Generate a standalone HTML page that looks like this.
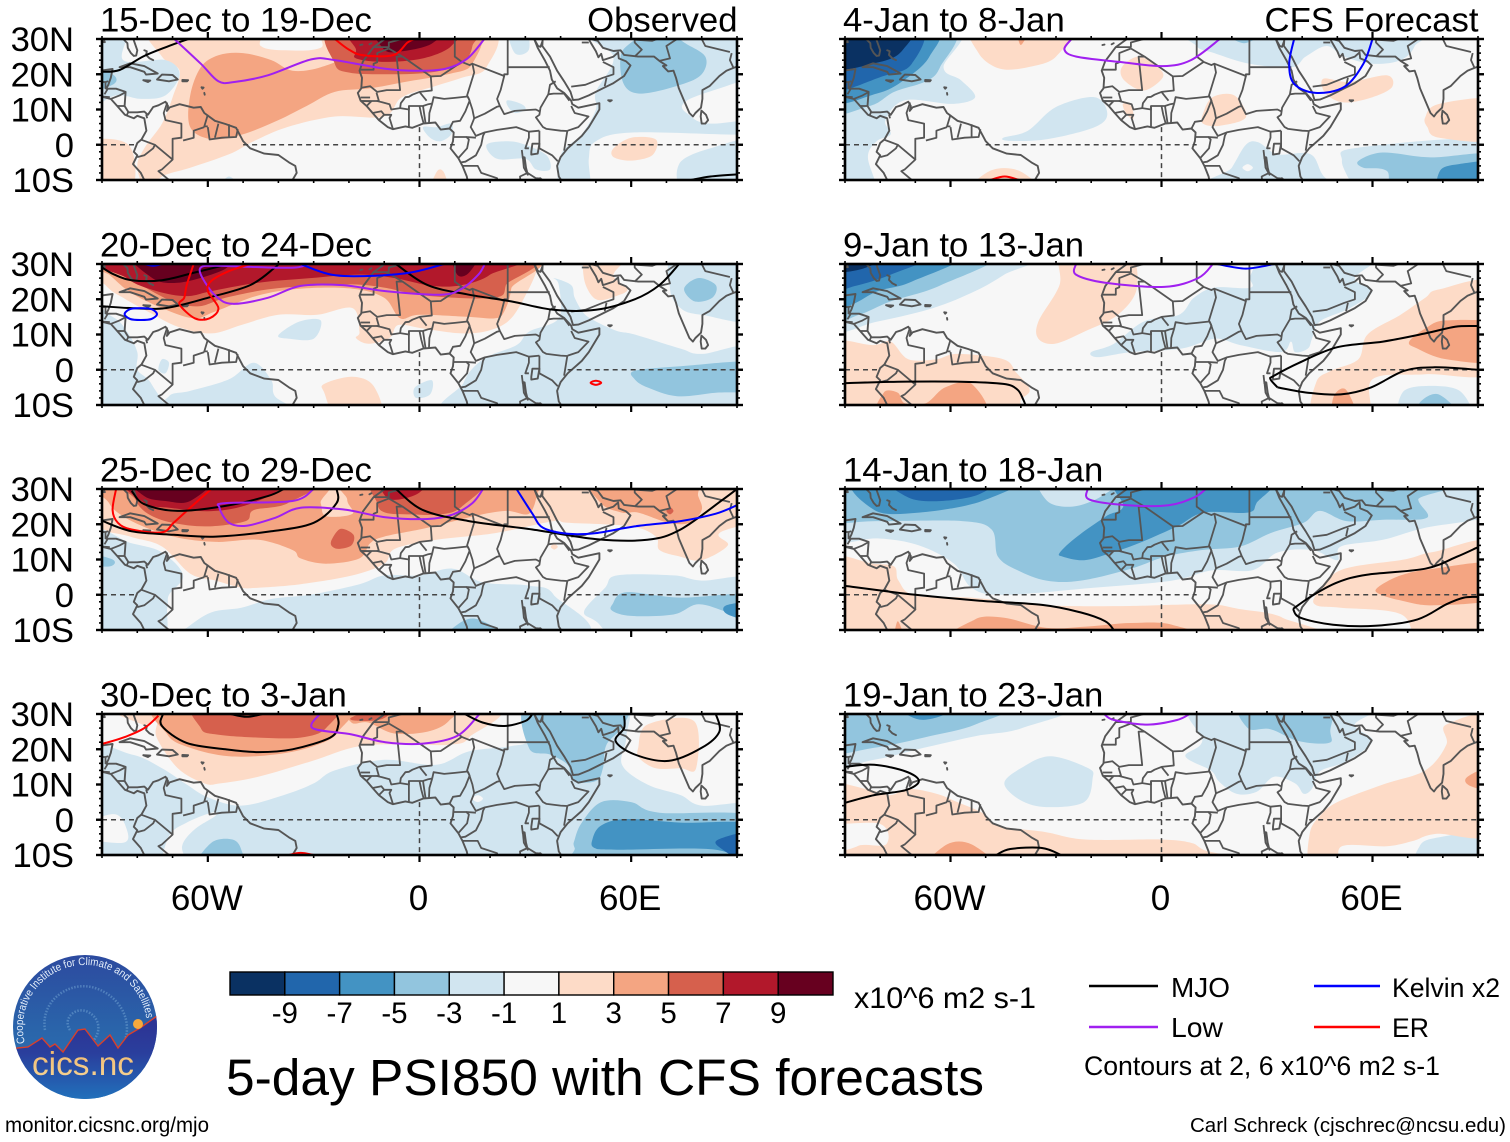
<!DOCTYPE html>
<html lang="en">
<head>
<meta charset="utf-8">
<title>5-day PSI850 with CFS forecasts</title>
<style>
html,body{margin:0;padding:0;background:#fff;}
svg{display:block;}
text{font-family:"Liberation Sans",Arial,sans-serif;fill:#000;}
</style>
</head>
<body>
<svg id="chart" xmlns="http://www.w3.org/2000/svg" width="1510" height="1142" viewBox="0 0 1510 1142">
  <rect width="1510" height="1142" fill="#fff"/>
  <g id="panels"></g>

  <g id="colorbar"></g>
  <text x="854" y="1008" font-size="30" textLength="182" lengthAdjust="spacingAndGlyphs">x10^6 m2 s-1</text>

  <text x="226" y="1095" font-size="51.4" textLength="758" lengthAdjust="spacingAndGlyphs">5-day PSI850 with CFS forecasts</text>

  <g>
    <line x1="1089" y1="986" x2="1158" y2="986" stroke="#000" stroke-width="2.4"/>
    <text x="1171" y="997" font-size="27.5" textLength="59" lengthAdjust="spacingAndGlyphs">MJO</text>
    <line x1="1089" y1="1027" x2="1158" y2="1027" stroke="#a020f0" stroke-width="2.4"/>
    <text x="1171" y="1037" font-size="27.5" textLength="52" lengthAdjust="spacingAndGlyphs">Low</text>
    <line x1="1314" y1="986" x2="1380" y2="986" stroke="#0000ff" stroke-width="2.4"/>
    <text x="1392" y="997" font-size="27" textLength="108" lengthAdjust="spacingAndGlyphs">Kelvin x2</text>
    <line x1="1314" y1="1027" x2="1380" y2="1027" stroke="#ff0000" stroke-width="2.4"/>
    <text x="1392" y="1037" font-size="27" textLength="37" lengthAdjust="spacingAndGlyphs">ER</text>
    <text x="1084" y="1075" font-size="26.4" textLength="356" lengthAdjust="spacingAndGlyphs">Contours at 2, 6 x10^6 m2 s-1</text>
  </g>

  <text x="5" y="1132" font-size="20.8" textLength="204" lengthAdjust="spacingAndGlyphs">monitor.cicsnc.org/mjo</text>
  <text x="1190" y="1132" font-size="20.5" textLength="316" lengthAdjust="spacingAndGlyphs">Carl Schreck (cjschrec@ncsu.edu)</text>

  <g>
    <defs>
      <linearGradient id="logoSky" x1="0" y1="0" x2="0" y2="1">
        <stop offset="0" stop-color="#2c4a9f"/>
        <stop offset="0.55" stop-color="#2a66ab"/>
        <stop offset="1" stop-color="#2b74b4"/>
      </linearGradient>
      <linearGradient id="logoLand" x1="0" y1="0" x2="0" y2="1">
        <stop offset="0" stop-color="#2e3192"/>
        <stop offset="0.4" stop-color="#2a3f9d"/>
        <stop offset="1" stop-color="#1f7cc2"/>
      </linearGradient>
      <linearGradient id="logoText" x1="0" y1="0" x2="0" y2="1">
        <stop offset="0" stop-color="#f0b568"/>
        <stop offset="1" stop-color="#f6d79a"/>
      </linearGradient>
      <clipPath id="logoClip"><circle cx="85" cy="1027" r="72"/></clipPath>
      <path id="logoArc" d="M 25 1043 A 62 62 0 1 1 146.5 1020"/>
    </defs>
    <circle cx="85" cy="1027" r="72" fill="url(#logoSky)"/>
    <g clip-path="url(#logoClip)">
      <path d="M 70 1030 C 62 1018 76 1006 88 1012 C 104 1020 100 1040 86 1046 M 45 1030 C 40 1000 70 980 95 988 C 120 996 132 1020 125 1040" fill="none" stroke="#7fb2dc" stroke-opacity="0.45" stroke-width="2.5" stroke-dasharray="1.5 1.5"/>
      <path d="M 13 1050 L 17 1048 L 28 1047 L 42 1038 L 50 1047 L 55 1044 L 63 1052 L 78 1030 L 85 1029 L 98 1046 L 110 1035 L 118 1048 L 128 1035 L 140 1028 L 157 1016 L 160 1110 L 10 1110 Z" fill="url(#logoLand)"/>
      <path d="M 13 1050 L 17 1048 L 28 1047 L 42 1038 L 50 1047 L 55 1044 L 63 1052 L 78 1030 L 85 1029 L 98 1046 L 110 1035 L 118 1048 L 128 1035 L 140 1028 L 157 1016" fill="none" stroke="#d8402c" stroke-width="1.4"/>
    </g>
    <circle cx="138" cy="1024" r="5" fill="#f6a93c"/>
    <text font-size="11" style="fill:#e4eefa"><textPath href="#logoArc" textLength="202" lengthAdjust="spacingAndGlyphs">Cooperative Institute for Climate and Satellites</textPath></text>
    <text x="32" y="1075" font-size="33.5" textLength="102" lengthAdjust="spacingAndGlyphs" style="fill:url(#logoText)">cics.nc</text>
  </g>
</svg>

<script>
/* ---- axis labels ---- */
const lonTickValues = [-60, 0, 60];
const lonTickLabels = ['60W', '0', '60E'];
const latTickValues = [30, 20, 10, 0, -10];
const latTickLabels = ['30N', '20N', '10N', '0', '10S'];

/* ---- colour scale ---- */
const colorbarLabels = ['-9', '-7', '-5', '-3', '-1', '1', '3', '5', '7', '9'];
const colorbarBins = [-9, -7, -5, -3, -1, 0, 1, 3, 5, 7, 9];

/* ---- panel titles ---- */
const panelTitlesLeft = ['15-Dec to 19-Dec', '20-Dec to 24-Dec', '25-Dec to 29-Dec', '30-Dec to 3-Jan'];
const panelTitlesRight = ['4-Jan to 8-Jan', '9-Jan to 13-Jan', '14-Jan to 18-Jan', '19-Jan to 23-Jan'];

/* ---- shaded PSI850 regions: [level, lon,lat pairs] ---- */
const fillsDec15 = [
 [1,[-76,30,-47,30,-45,28,-38,26.8,-28,27.5,-24,30,19,30,19,22,12,19,4,16.5,-5,13.5,-10,8,-24,8,-37.5,5,-47,1,-54,-2.7,-65,-6.5,-73,-9,-77,-10,-80,-6.5,-78,-1,-73,6,-70,13.5,-68,21,-73,25]],
 [1,[-90,0,-82.5,0,-82,-10,-90,-10]],
 [1,[3,-10,5,-7.5,7,-8,8,-10]],
 [1,[55,-1,60,2,67,1.5,66,-3,60,-4.5,55,-3.5]],
 [3,[-65,14,-62,22,-57,25.4,-50,26,-42,24,-36,21,-28,22,-20,26,-20,30,15,30,15,23,8,20,-3,18,-14,16,-24,15,-32,11,-40,7,-50,3,-59,1.6,-65,5]],
 [5,[-24,30,-24,23,-20,20.5,-10,20,3,20.5,12,23,15,28,14,30]],
 [7,[-19,30,-18,27,-18,24.5,-10,23.5,1,24.5,9,28,9.5,30]],
 [9,[-12,30,-10,27,-5,26.5,3.5,28.7,6,30]],
 [-1,[-90,30,-83,30,-84,24,-72,24,-68,20,-72,14,-79,13,-86,14,-90,11]],
 [-3,[-90,23,-87,20,-87,17,-90,15]],
 [-1,[47,30,55,25,50,15,50,10,46,3,40,-3,40,-10,48,-10,48,-4,50,1,61,3.5,90,3,90,7,82.5,6,77,8,75.7,12.5,90,21,90,30]],
 [-1,[73.6,-5.5,82.5,-1,90,1,90,-10,76,-10]],
 [-3,[57,25,60,29,68,30,75,29,81,25,80,20,74,17,63,14.5,58,17]],
 [-1,[25,12.6,29,11.5,30,10,27,9,25,11]],
 [-1,[1,5,5,5,9,6,9,3,6,1,3,2]],
 [-1,[19,0,25,1,30,0,36,-3,37,-7,33,-7,30,-4,22,-4]],
 [-1,[25,30,30,30,31,27,27,26]],
 [-1,[-57,-10,-54,-9,-50,-10]]
];
const linesDec15 = [
 ['mjo',[-90,20.7,-85,21.2,-78.4,25,-71.6,27.8,-65.5,30]],
 ['low',[-69.5,30,-62,23,-57,18,-52.5,17.8,-43,19.7,-30.7,24.2,-24,24,-10,21.6,-0.7,21,7.5,21.6,13.6,24.5,18.4,30]],
 ['er',[-24,30,-20,27,-16,25.4,-7.5,25.4,-3.4,29,-1.4,30]],
 ['mjo',[77,-10,82.5,-9,90,-8.4]]
];

const fillsDec20 = [
 [1,[-90,30,-89,24,-84,20.4,-77,16.5,-68.5,12.2,-59,10.3,-50.5,12.7,-40,15.6,-29,15.6,-19,17.5,-17,10.8,-18,9,-14.5,7.4,-8.5,9,-6,12.7,1,11.7,12,10.3,20,11.2,26,14.6,31,23,33.5,29,34,30]],
 [1,[48,30,46.6,26,50,20,56,21,59,23,55,27,60,30]],
 [1,[-27,-4,-19,-2,-13,-4.6,-11,-10,-23,-10,-27,-6.5]],
 [3,[-90,30,-88,27,-82,22,-73,17.5,-64,14.6,-58,16.5,-46,21,-34,23,-19,23,-10,20.4,-5.5,14.6,0,15.6,14,15,21.5,14.6,24,16.5,26,23,26,30]],
 [5,[-90,30,-86.5,28,-79,24,-70,19.4,-62.5,18,-55,20.4,-43,22.8,-31,23.8,-19,24.2,-10,23.3,2,21,21,20.4,24.5,24,25,30]],
 [7,[-88,30,-83,26,-74.5,22.3,-66,20.9,-59,22.3,-45.7,24.7,-31,26,-17,27,-7,26,3.5,23.8,12,24,20,27,24.5,30]],
 [9,[-81,30,-75.7,26,-68.5,24.7,-59,27,-54,29.5,-53,30]],
 [9,[9.5,30,10.7,27,14,27.5,17,30]],
 [-1,[-90,18,-87,15,-83,11,-80,5,-80,0,-76,-4,-73,-10,-90,-10]],
 [-1,[-73,3,-71,2,-72,-1,-74,0]],
 [-1,[-71,-7.5,-65,-6,-54,-2.7,-47,2,-42,-3,-41,-7.5,-35,-10,-72,-10]],
 [-1,[-40,9.8,-34,13.7,-28,14,-30,8.8,-37,8.8]],
 [-1,[-1.3,-5,3.5,-3,3,-7,-1,-8]],
 [-1,[12,-10,12.5,-3.7,18,3,27.5,7,31,10.8,39.5,14.6,39.5,24,38,26,43,24,44,20.4,46.6,16,50,13.7,56,11,61,10,74,6,80,4.5,90,6,90,-10]],
 [-1,[73,30,71,23,74,17.5,80,15.6,90,14.6,90,30]],
 [-3,[75,23,79,26,84,24,83,20.4,78,19.4]],
 [-3,[61,-0.3,74,1,90,2,90,-5.5,84,-6.5,73,-7.5,64.6,-5,61,-2.7]]
];
const linesDec20 = [
 ['mjo',[-90,29,-86.5,27,-81.6,25.4,-73,25.4,-63.7,27.6,-54,30]],
 ['mjo',[-90,18,-81.6,17.5,-72,17.5,-60,20.4,-48,24,-41,29,-40,30]],
 ['mjo',[-6.7,30,2.3,24,14,21.3,26,19.4,38,17,50,17,61,20,68,24,73.6,30]],
 ['low',[-31,30,-35,29,-43,29,-57.7,29.5,-62,29,-61.5,26,-57.7,20.9,-53,18.7,-43,20.4,-33.7,23.8,-21.7,24,-9.7,22.3,6,21.3,12,23,16.7,27,18.5,30]],
 ['kelvin',[-83.6,15.8,-82,17.2,-79,17.5,-76,17.2,-74.4,15.8,-76,14.4,-79,14.1,-82,14.4],true],
 ['kelvin',[-78,30,-75.5,29.5,-73,30]],
 ['kelvin',[-33.7,30,-25,27,-14.5,26.6,-2.5,27.6,7,30]],
 ['er',[-64,30,-66,24,-66.7,20.4,-68,18.5,-63.7,14.6,-59.5,14.6,-57,17.5,-60,22.3,-59,25.2,-54,28,-48,30]],
 ['er',[48.5,-3.7,50,-3.1,51.5,-3.7,50,-4.3],true]
];

const fillsDec25 = [
 [1,[-90,30,-90,20.9,-82,16.5,-73,13.7,-65,6,-57.7,4,-50.5,2,-45.7,2,-33.7,3,-19,5.5,-10,8.8,-7,13,4.7,15.6,21.5,17.5,38,20.9,42,20.4,60,19.4,67,16.5,68,12.7,74,10.8,80,9.8,87.4,14,85,17.5,90,22.3,90,30]],
 [1,[37.2,13.6,38.2,14.4,39.2,13.6,38.2,12.8]],
 [3,[-88.5,30,-88,26,-81.6,20.9,-69.7,16.5,-57.7,15,-45.7,15.6,-36,12.7,-33.7,10.3,-26.5,8.8,-17,10.3,-14,14.6,-10,16.5,2.3,19,15.5,22.3,24.5,23.8,31,23,33.5,29,34,30,-18.7,30,-20.5,27,-19,23,-26.5,22.3,-28,26,-30,30]],
 [3,[49,30,51.4,26,57.4,23.3,62,23.3,70.6,20.4,76.6,20.4,80,24,79,28,76.6,30]],
 [5,[71,24.8,72,23.8,71,22.8,70,23.8]],
 [5,[-81.6,30,-80.5,27,-77,23,-70,20.4,-60,19.4,-49.3,20.9,-47,24,-37.3,26,-30,30]],
 [5,[-12,30,-12,26,-9.7,23.3,-2.5,22.8,6,22.8,12,25,18,30]],
 [5,[-24.7,16,-22.3,18.7,-18.7,17,-19.3,14,-23,13,-25,14]],
 [7,[-81.6,30,-78,26,-71,24.7,-60,23.7,-50.5,25,-41,29,-38.5,30]],
 [7,[-11,30,-9.7,28,-6,27,0,29,2.3,30]],
 [9,[-81.6,30,-78,28,-72,26.6,-65,26.6,-59,30]],
 [-1,[-90,18,-81.6,14.6,-73,12,-67,5.5,-71,0,-71.5,-3.7,-74,-10,-90,-10]],
 [-1,[-71,-10,-66,-9.4,-59,-5,-50.5,-3.7,-42,-1.2,-31,0,-17,3,-10,5.5,0,5.5,9.5,7.4,18,3.5,31,2.6,38,0,41,-10]],
 [-1,[46.7,-4.6,52.6,2,56,5.5,72,5.5,80,4,90,4,90,-10,60,-10,50,-7.5]],
 [-3,[54.7,-2.7,58.6,0.7,74,-0.8,90,0,90,-8,87.4,-5,79,-2.7,72,-5.6,60,-6,54.7,-4.6]],
 [-5,[87,-3,90,-2.3,90,-7.5,87.4,-5.6]],
 [-3,[7.7,-10,10.7,-8.5,16.7,-7,26,-10]],
 [-3,[-90,12,-87,10,-88,8,-90,9]]
];
const linesDec25 = [
 ['er',[-86,30,-87,24,-85.5,20.4,-81.6,18.5,-73,17.7,-69.7,20.4,-65,24.7,-59,30]],
 ['mjo',[-81.6,29.5,-78,25.7,-68.5,23.8,-55,25.2,-43,28,-38.5,30]],
 ['mjo',[-90,21,-81.6,18,-69.7,17,-57.7,16.5,-42,18,-30,20.4,-23.5,26,-23.5,30]],
 ['low',[-30,30,-36,26.6,-55,26,-56.7,24.7,-54,20.4,-49,19.6,-41,21.8,-33.7,24.7,-21.7,24.2,-9.7,22,2.3,21.5,9.5,22.8,15,26,18,30]],
 ['mjo',[-6.7,30,1,24,14,20.9,32,18.5,50,15.8,64.6,15.6,74,18.5,86,27,90,30]],
 ['kelvin',[27.5,30,32,23,35,19,42,17.3,50,17.5,61,19.4,74,20.9,84,23,90,25.4]]
];

const fillsDec30 = [
 [-1,[-90,19.4,-81.6,18.5,-73,14.6,-66,10,-60,6.4,-50.5,4,-38.5,7,-30,10.3,-24,14,-10,17,4.7,15.6,14,19.4,26,20.9,31,23,32,30,57.4,30,58.6,23.3,57.4,15.6,64.6,10,74,7,80,4,90,3.5,90,-10,-90,-10]],
 [0,[-72.7,-10,-71,-4.6,-66,-0.8,-59,2,-57.7,1.2,-63.7,-2.7,-67.3,-7.5,-66,-10]],
 [0,[-90,-1.7,-86.5,1.6,-83,-2.7,-84,-6.5,-90,-5]],
 [0,[15,6,16.5,7,18,6,16.5,5]],
 [1,[-81,30,-78.6,27,-74.5,28,-74.5,23.3,-68.5,14.6,-61,10.3,-56.5,10.3,-45.7,12.2,-31,16.5,-17,20.9,-2.5,21.3,8.3,21.3,14,23.3,17,30]],
 [1,[62,20.4,64.6,27,77.8,28,78.4,14.6,74,14.6,67,14.6,62.3,17.5]],
 [3,[-72.7,30,-71.5,24.2,-65,20.4,-54,18,-41,18.5,-30,20.9,-23,25,-22.5,30]],
 [3,[-20,30,-19.3,27.6,-14.5,27.6,-7.3,24.5,2.3,25,8.3,28,10,30]],
 [5,[-62,30,-62,26,-57.7,24.2,-45.7,23.3,-33.7,23.3,-26.5,26,-25,30]],
 [5,[-19.3,29,-15.7,28,-9.7,29,-6.7,30]],
 [-3,[31,30,31,20.4,37,18.5,42,15.6,43.6,11,50,11,52,14.6,53,21.3,58,27,57.4,30]],
 [-3,[44,-5.6,46,-0.8,51.5,5,60,5,68,2,90,0.7,90,-10,47.2,-10,44,-8]],
 [-3,[-63,-10,-59,-6.5,-53,-5.6,-50.5,-8.5,-50.5,-10]],
 [-5,[49,-5.6,51.4,-1.7,58.6,0.2,74,-0.8,90,-1.7,90,-10,84,-8.5,56,-8.5,49.6,-8]],
 [-7,[84.7,-5.6,90,-3.7,90,-10,86,-8.5]]
];
const linesDec30 = [
 ['er',[-90,21.5,-84,23.3,-78,26,-74,29.5]],
 ['mjo',[-72.7,30,-73,26.6,-66,21.8,-55,20,-45.7,19.2,-36,20,-25.3,23.3,-23,27,-23.5,30]],
 ['mjo',[-53.5,30,-49,29.2,-44.5,30]],
 ['low',[-28.3,30,-30.3,26,-19.3,24.2,-9.7,22,1,21.6,10.7,23.8,17,30]],
 ['mjo',[12.8,30,17.9,27.6,24,26.6,30,28,32,30]],
 ['mjo',[58,29.5,58,26,55.6,22.3,61,18.5,70.6,16.7,80,20.4,85,25,84,30]],
 ['er',[-37,-10,-33.7,-9.4,-30,-10]]
];

const fillsJan4 = [
 [-1,[-58,30,-62,22,-57,18.3,-53,13.5,-59.6,11.6,-73,12.6,-78.5,7,-77,3,-81,1,-83.5,-3.6,-81,-10,-88,-10,-90,-10,-90,30]],
 [-3,[-60,30,-63,22,-67,18,-76,15,-83,11,-90,10,-90,30]],
 [-5,[-65,30,-66,25,-73,18.5,-81,14.5,-90,12.5,-90,30]],
 [-7,[-69,30,-71,23,-79,19.5,-90,15.5,-90,30]],
 [-9,[-72,30,-73.5,27,-80,23.5,-90,21.5,-90,30]],
 [-1,[10,30,10,28,15,26,25,23,37,22,41,25,47,28,52,25,60,23,68,24,72,28,72,30]],
 [-3,[16.6,30,23.5,28.8,30,30]],
 [-1,[-45,2,-38,4,-30,10.7,-19,13.5,-15.4,8.8,-19,5,-32.4,1.6,-43,1.1]],
 [-1,[15,-10,20,-6.5,24,0,27.5,0.7,33,-2.7,42.4,-2.7,46.5,-9.3,54.7,-10,51.3,-4.6,56,-0.8,90,1,90,-10]],
 [0,[23,-6.5,24.5,-5.5,26,-6.5,24.5,-7.5]],
 [-3,[56,-4.6,62.9,-2.2,76.5,-3.6,90,-2.9,90,-10,68,-10,64,-7.4,57.4,-6.5]],
 [-5,[79.2,-7.4,84.6,-5.5,90,-5.2,90,-10,80,-10]],
 [1,[-52.8,30,-52,26,-46,21.6,-38,22,-30,25,-27,30]],
 [3,[-41,30,-40,28.3,-37.5,30]],
 [1,[-11.3,22,-6.5,25,-1,22,0.3,19,-5,15.4,-10.6,18.3]],
 [1,[-11,11.6,-8.6,11,-8,7.3,-10,8.8]],
 [1,[11.8,8.8,14.5,13.5,20.7,14,24,7.8,16.6,5.4,11.8,6]],
 [1,[46,18.7,53.4,17.8,64,19.7,65.6,16.4,60,13.5,52,12,46.7,14.5]],
 [1,[75,7.8,79,11.6,90,12.6,90,1.6,79,2,75.6,5]],
 [1,[-54,-10,-48.7,-7.4,-40.5,-7.4,-35,-10]]
];
const linesJan4 = [
 ['er',[-48.7,-10,-44.6,-9,-40.5,-10]],
 ['low',[-25.6,30,-27.6,27,-24.2,25,-12,23.5,0.3,22.3,8.4,24,16.6,30]],
 ['kelvin',[37.7,30,36.3,23,37.7,17.3,43.8,14.7,52,16.4,57.4,23,60,30]]
];

const fillsJan9 = [
 [-1,[-35,30,-44.7,27,-53,22.3,-65,17.5,-80.7,13.7,-90,11.3,-90,30]],
 [-3,[-47,30,-62.7,24,-77,19.4,-86,15.6,-90,13.7,-90,30]],
 [-5,[-55.7,30,-71,25,-80.7,22.3,-88,18.5,-90,16.5,-90,30]],
 [-7,[-64,30,-77,27,-87,23.8,-90,22.3,-90,30]],
 [-9,[-77,30,-85.5,28.5,-90,28,-90,30]],
 [-1,[5,15.6,9.2,20.4,15,23.3,25.4,23.3,25.4,27,32,30,62,30,55,26,60,22.3,53.6,17.5,45,13.7,42.8,8.8,41.6,6,38,5,36.8,8,34,5,22.4,7,15.2,8.8,5.6,6,-8.7,5,-18,3.6,-20,5,-13.5,7.4,-5,13.7]],
 [1,[-28,30,-29,24,-35,13.7,-35,8.8,-30.3,7.4,-22,10.8,-12.4,15.6,-7,23.3,-10,30]],
 [1,[-90,7,-82,7,-77,8,-72,3,-64,3,-58,4.5,-45,3,-41.3,-0.8,-37.5,-5.6,-40,-8.5,-44.7,-10,-90,-10]],
 [3,[-79,-6.5,-75,-6.5,-73,-9.5,-67,-9.5,-61.5,-5,-54,-4,-51,-10,-79,-10]],
 [1,[56,3,58.6,10,68,15.6,75,20.4,79,22.8,90,24.2,90,0,75,-1.3,60,-2.7,58.5,-10,43.4,-10,44,-3.6,48.2,-0.3]],
 [3,[70.4,7.9,75,11.7,81,14,90,12.7,90,2.6,81,3,72.8,6]],
 [3,[49,-7.5,52.4,-5.6,55.4,-10,49,-10]],
 [-1,[68.5,-6.5,75,-4.6,84.8,-6,87,-10,69,-10]],
 [-3,[73.4,-9.4,78.8,-7,84.8,-10,74,-10]]
];
const linesJan9 = [
 ['mjo',[-90,-3.8,-75,-3.4,-57,-3.4,-45,-4,-41,-5.6,-39.3,-8.5,-38.7,-10]],
 ['mjo',[33,-5,31,-2.7,32,-1.7,39.2,2,50,6.4,63,8,75,10.3,83.5,12.2,90,12.4]],
 ['mjo',[33,-5,41.6,-6.5,51,-7,59.6,-5,69,-0.3,77.6,0.7,90,0]],
 ['low',[-24.3,30,-24.3,27,-16,24.7,0.8,23.5,10.4,26,14.6,30]],
 ['kelvin',[15.8,30,24,28.7,32,30]]
];

const fillsJan14 = [
 [-1,[-90,15.6,-80.7,16,-69,14,-59,8.8,-54,2,-45,0,-19.3,2,3,4,14.3,6.9,26,7,33,12,42.8,12.7,50,9.8,51,13.7,63,15.6,75,19,90,23.3,90,30,-90,30]],
 [-3,[-90,21.3,-80.7,20.9,-56.7,20.9,-48.3,18.5,-46.5,10.8,-41,7,-32.7,4,-23,4,-8.7,7.4,1,10.8,11.6,12.7,22.4,13.7,31,17.5,40.4,20.4,45,23.8,52.6,20.9,63,21.3,75.4,21.8,73,27,73.6,30,-90,30]],
 [-1,[-33.7,30,-32.5,26.6,-25.3,25,-17,28,-12,30]],
 [-5,[-86,30,-81.6,24,-69,23.3,-51,26.6,-41.3,30]],
 [-5,[-28.9,12,-24,16.5,-15.7,22.3,-10.9,25,-11,30,29.8,30,27,26,24.5,23.3,12,23.3,4.4,19.4,-6.5,14.6,-14.8,11.7,-22,9.8,-28,10.8]],
 [-7,[-77,30,-72,27.6,-62.6,26.6,-51.6,28.6,-48,30]],
 [1,[-90,9.8,-82,8.8,-76,8,-74.8,4,-70,-0.3,-54,-0.8,-37,-2.7,-27,-3.2,-9,-3.2,12.7,-2.7,21.9,-4,34.4,-6.5,38,-10,-90,-10]],
 [3,[-56,-10,-53,-7,-44.7,-6.5,-32.7,-9.4,-21,-9,-8.7,-8,3,-8.5,10.3,-10]],
 [3,[-76,-10,-75,-7.5,-73,-10]],
 [1,[44,0,51,7,69,10,77.6,12.2,90,14,90,-10,74.6,-10,68,-5.5,51,-3.7,44,-3]],
 [3,[61.4,2,68,5.5,77.4,7.4,90,8.8,90,-0.7,78,-3,68.4,-1.7,62,0.2]]
];
const linesJan14 = [
 ['mjo',[-90,2.5,-70,0,-51.7,-1.7,-33.7,-2.9,-23,-5,-16,-7.5,-13.6,-10]],
 ['mjo',[37.4,-4,42.8,-0.3,50,3.5,58.4,5.7,75,7.4,84,10.8,90,13.5]],
 ['mjo',[37.4,-4,39.5,-6.5,48.8,-8.5,60.8,-8.8,72.8,-7,81,-2.7,86,-0.8,90,-0.6]],
 ['low',[-21,30,-20.5,27,-9.7,25.4,2,25.4,9.2,27.6,12.6,30]]
];

const fillsJan19 = [
 [-1,[-25.5,30,-39.7,26,-53,23.7,-67.6,20.4,-81.7,17,-90,15.6,-90,30]],
 [-3,[-43,30,-53,27,-66,23.7,-81.7,20.4,-90,19.4,-90,30]],
 [-5,[-75.7,30,-69.7,28.6,-62.5,29.5,-57.3,30]],
 [-1,[-44.7,10.3,-40,14.6,-31.6,18,-20.8,14.6,-19.6,11.7,-22,5,-32.7,3.6,-40,5.5]],
 [-1,[6.8,18,11.6,22.3,10.4,30,60.8,30,55,27,60,22.3,52.4,16.5,45,13.7,42.8,8.8,40.4,7.4,38,10.3,32,12.2,27,7.9,21.3,7.4,16.4,10.8,14,14]],
 [-3,[23,30,24.5,26,31,25.7,39,22.3,47.6,21.8,48,25,46.6,30]],
 [-1,[73.4,-7.5,78.8,-5,90,-3.6,90,-10,74,-10]],
 [1,[-90,10.3,-82.7,8.4,-77,7,-72,8.8,-64,7.4,-58,5,-51,2,-46,-1.7,-33,-3.5,-21.7,-5.6,-0.4,-5.6,8.3,-6.5,11.9,-8.5,21.4,-10,-89,-10,-86.5,-7.5,-78.3,-7,-80,-1.2,-90,-0.3]],
 [3,[-66,-10,-61,-7,-54,-7,-47.7,-10]],
 [1,[42.2,-10,42.2,-3.7,45,1,50,5,63,10,75,14,81,21.3,81,27,90,28,90,-2.7,78,-4,71.6,-6,64,-7.5,51.3,-7.5,50,-10]],
 [3,[87,12.2,90,15.6,90,8.4,88,9.5]]
];
const linesJan19 = [
 ['mjo',[-90,15,-81.7,15.6,-72.7,13.7,-69,11,-72.7,8.4,-81.7,7,-90,4.8]],
 ['mjo',[-47,-10,-43,-8.3,-34,-8,-28.6,-10]],
 ['low',[-16.3,30,-13.5,28.3,-4,27,4.4,28.3,8,30]]
];

/* ---- map geography (lon,lat) ---- */
const coastlines = [
 [-90,29.2,-89.2,29.1,-89.5,30,-86,30.4,-84,30,-82.8,28.8,-82.7,27.5,-81.8,26,-81,25.2,-80.3,25.3,-80,26.8,-80.6,28.5,-81.3,30.5],
 [-91,18.6,-90.5,21,-87,21.5,-87.5,19,-88.2,17,-88.8,15.9,-86,15.9,-83.3,15,-83.6,11,-82.5,9.2,-80,9.2,-78,9.4,-77,8.5,-75.5,10.7,-74,11.2,-72,12.2,-71.3,11,-71.6,9.6,-70.8,10.6,-68,11.5,-64,10.5,-62,10.7,-61,9,-58,6.8,-55,5.9,-52,4.8,-50,1,-48,-1,-44,-2.5,-40,-2.9,-37,-5,-35.2,-6,-34.8,-8,-36,-10],
 [-92,14.5,-90,13.6,-87.5,13,-85.7,11,-83.5,8.5,-81,7.5,-80,8.2,-78,7.5,-77.4,4,-78.8,1.5,-80,0.5,-81,-2,-80,-3,-81.2,-5.5,-79,-8,-78,-10],
 [-9.7,31,-9.8,30,-13,27.7,-16,23.7,-17,21,-16.3,19,-16.5,16,-17.5,14.7,-16.7,12.5,-15,11,-13.3,9,-11.5,7,-9,5,-7.5,4.4,-4,5.2,-2,4.8,1,6,4.5,6.3,6,4.3,8.5,4.6,9.7,3.5,9.5,1,8.8,-1,11,-3.8,12.2,-6,13.4,-9,13.8,-11],
 [32.5,30,33.5,27.5,35.5,24,37,21,37.5,18.5,39,16,41,14.7,43,12.5,43.3,11.5,45,10.5,51,11.8,51,10,48,5,46,2.5,42,-1,40,-3.5,39,-6,39.5,-9,40.5,-10.5],
 [32.5,30,33.6,28,34.3,27.8,34.9,29.5],
 [34.9,29.5,34.8,28,37,25,39,21,41,18,42.8,15,43.5,12.7,45,12.8,48,14,52,16,55,17.5,58,19.5,59.8,22.5,58.5,23.7,56.5,24.5,56.3,26.2,55,25,52,24,51.5,25.8,50.7,24.8,50,26.5,48.5,29,48,30],
 [48.5,30,50.5,29.5,52,27.5,55,26.6,57,26.8,58,25.5,62,25,66.5,25,68,23.8,70,22.5,69,22.3,70.5,20.8,72,21,72.7,19,73.5,16,75,12.5,76.5,9,77.5,8,78.2,9,79.8,10.5,80.2,13,80.2,15.5,82.3,16.7,85,19.5,87,21,89,21.8,91,22.5],
 [79.9,9.7,81.2,8.5,81.8,7,81,6,80,6,79.7,8,79.9,9.7],
 [-85,22,-82,23.1,-78,22.3,-74.2,20.2,-77.5,19.9,-78,20.7,-82,22,-85,22],
 [-74.4,18.5,-73,19.9,-70,19.8,-68.5,18.5,-71,18,-74.4,18.5],
 [-78.3,18.3,-76.3,18.2,-77,17.8,-78.3,18.3],
 [-67.2,18.4,-65.6,18.3,-65.9,18,-67.2,18,-67.2,18.4],
 [-78,26.8,-77.3,26.5,-77.5,25.5,-76.5,24.5,-75.5,24],
 [-61.8,16.3,-61.2,16.2,-61.5,15.9,-61.8,16.3],
 [-61,14.7,-60.9,14.2],
 [-16.8,28.3,-16.2,28.4],[-14.2,28.5,-13.6,28.8],[-15.7,28],
 [53.5,12.6,54.5,12.6,54,12.3,53.5,12.6],
 [31.7,-2,32,0.3,34,0.3,33.5,-2.5,31.7,-2.8,31.7,-2],
 [29.3,-3.5,29.6,-6.5,30.7,-8.5,30.2,-6.5,29.8,-3.6,29.3,-3.5],
 [34.2,-9.5,34.6,-11,34.8,-10,34.2,-9.5]
];
const countryBorders = [
 [-13,27.7,-8.7,27.7,-8.7,29,-5,30],
 [-8.7,27.3,-12,26,-12,23.4,-13,23,-13,21.3,-17,21.3],
 [-8.7,27.3,-4.8,25,-6.5,25,-5.5,15.5,-9.3,15.5,-12,15,-14,16.6,-16.3,16.2],
 [-4.8,25,3.2,19.4,3.5,15.4,0,15,-2,14.2,-3,13.6,-4,13.5,-5.3,11.8,-5.5,10.4,-8,10,-8.5,11.5,-12,12.4,-11.5,12.4,-12.2,14.8],
 [3.2,19.4,6,19.5,12,23.5,14.2,22.6,15,23,24,19.5,24,20,25,20,25,30],
 [12,23.5,10,25,10,30],[25,22,36.9,22],
 [15,23,15.5,20.5,13.5,14,14,13],
 [24,19.5,23,15.5,22,13,22.8,11,24,8.7,27,9.6,33,10,34,9.5],
 [3.6,11.7,4,13.5,7,13,10,13.3,13.6,13.7,14,13],
 [2.7,6.3,2.8,9,3.6,11.7],
 [8.6,4.7,9.5,6.5,11.5,6.8,13,9.5,14.2,12.5,14,13],
 [14,13,15,10,15.5,7.5,18.5,8.8,22,10.8,22.8,11],
 [15.5,7.5,14.5,5,16,2.5,18.5,3.5,22,4.2,27.4,5,31,3.7],
 [38.6,18,37,17,36.5,14.3,38,14.5,41,14.5,42.5,12.5],
 [36.5,14.3,34.3,10.5,34,8.5,33,7.8,35,5,36,4.5,40,4,41.9,3.9,41,-1.7],
 [43,11,44,9,47.9,8,45,5,42,4],
 [34,4,34,1,34,-1,37.6,-3,39.2,-4.7],
 [31,3.7,34,4],[31,-1,30,-1,31,2,31,3.7],[29,-1.5,29.3,-4],[30.6,-8,28.5,-9,28.7,-11],
 [11.7,-5,13,-4.8,16,-3,17.5,0,18,2.5,18.5,3.5],
 [9.5,2.2,13.3,2.2,14,1.5,13.5,-1,11,-3.8],[13.3,2.2,16,2],
 [12.2,-6,16.5,-6,17.5,-8,22,-9.5,22,-11],
 [30.6,-8,33,-9.5,34.5,-9.6],
 [-16.7,13.4,-14,13.4],[-16.7,12.4,-13.7,12.3,-15,11],[-11.5,12.4,-16.7,12.4],
 [-13.3,9,-10.8,9.5,-10,8.5,-8,8.5,-8.5,7.6,-7.5,4.4],
 [-11.5,7,-10,8.5],
 [-5.5,10.4,-3,10,-3,11,1,11,2.5,11.5,3.6,11.7],[2,12.5,0,15],
 [-3,5,-3,11],[1.2,6,0.5,8.5,0,11],[1.7,6.2,1,11],
 [43,16.5,47,17,52,19,55,20,55,22,52,23.5],[52.5,16.6,53,19],
 [46,29,48,29],[61,25,63,27,61,29,61,30],
 [68,23.8,71,24.5,70,28,73,30],[80,30,81,28,88,26.3],
 [88.5,26,88,24,89,21.8],[61,29.8,66,29.5,70,31],
 [-71.5,12,-72.5,9,-72,7,-67.5,6,-67.5,2,-70,1.7,-70,-4.2],
 [-60,8.5,-61,5.2,-60,5.2],[-67,1.2,-64,2,-64,4,-61,5],
 [-57,6,-58,2],[-54,5.8,-54,2.3],
 [-60,5,-59.5,1.5,-56,2,-52,2.2,-51.5,4.4],
 [-80,-3.5,-78,-3,-75.5,-1,-75,0,-78.8,1.4],
 [-75,0,-70,-4.2,-73,-7,-74,-7.5,-71,-10],
 [-77.5,8.6,-77.2,7.5],
 [-92,14.5,-91,17.8,-89,17.8,-88.2,18],[-89,17.8,-89,15.8],
 [-87.5,13,-85,14,-83.2,15],[-85.7,11,-83.7,11],[-83,8.3,-82.5,9.5],
 [-90,13.7,-87.8,13.5],[-89.3,14.3,-88.4,15.8]
];
const equatorOceanSpans = [[-90,-80],[-50,10],[42,90]];
const meridianSpan = [5,-10];

/* ---- geometry ---- */
const svg = document.getElementById('chart');
const panelsRoot = document.getElementById('panels');
const NS = 'http://www.w3.org/2000/svg';
const panelTops = [39, 264, 489, 714];
const panelH = 141;
const columns = [
  {left: 102, w: 635, titles: panelTitlesLeft, prefix: 'observed',
   fills: [fillsDec15, fillsDec20, fillsDec25, fillsDec30], lines: [linesDec15, linesDec20, linesDec25, linesDec30]},
  {left: 845, w: 633, titles: panelTitlesRight, prefix: 'forecast',
   fills: [fillsJan4, fillsJan9, fillsJan14, fillsJan19], lines: [linesJan4, linesJan9, linesJan14, linesJan19]}
];
const shadeColor = {'-9':'#0a3162','-7':'#2166ac','-5':'#4393c3','-3':'#92c5de','-1':'#d1e5f0','0':'#f7f7f7','1':'#fddbc7','3':'#f4a582','5':'#d6604d','7':'#b2182b','9':'#67001f'};
const lineColor = {mjo:'#000000', low:'#a020f0', kelvin:'#0000ff', er:'#ff0000'};

function mk(tag, attrs, parent) {
  const el = document.createElementNS(NS, tag);
  for (const k in attrs) el.setAttribute(k, attrs[k]);
  if (parent) parent.appendChild(el);
  return el;
}
function axisX(col, lon) { return col.left + (lon + 90) * col.w / 180; }
function axisY(top, lat) { return top + (30 - lat) * panelH / 40; }
function toPoints(col, top, flat, bleed) {
  const pts = [];
  for (let i = 0; i < flat.length; i += 2) {
    let lon = flat[i], lat = flat[i + 1];
    if (bleed) {
      if (lon >= 90) lon += 6;
      if (lon <= -90) lon -= 6;
      if (lat >= 30) lat = 33.5;
      if (lat <= -10) lat = -13.5;
    }
    pts.push([axisX(col, lon), axisY(top, lat)]);
  }
  return pts;
}
function smoothPath(p, closed) {
  const n = p.length;
  const at = i => closed ? p[(i + n) % n] : p[Math.max(0, Math.min(n - 1, i))];
  let d = 'M' + p[0][0].toFixed(1) + ' ' + p[0][1].toFixed(1);
  const segs = closed ? n : n - 1;
  for (let i = 0; i < segs; i++) {
    const a = at(i - 1), b = at(i), c = at(i + 1), e = at(i + 2);
    d += 'C' + (b[0] + (c[0] - a[0]) / 6).toFixed(1) + ' ' + (b[1] + (c[1] - a[1]) / 6).toFixed(1) + ' ' +
         (c[0] - (e[0] - b[0]) / 6).toFixed(1) + ' ' + (c[1] - (e[1] - b[1]) / 6).toFixed(1) + ' ' +
         c[0].toFixed(1) + ' ' + c[1].toFixed(1);
  }
  return d + (closed ? 'Z' : '');
}
function straightPath(p) {
  return 'M' + p.map(q => q[0].toFixed(1) + ' ' + q[1].toFixed(1)).join('L');
}

function drawPanel(col, row) {
  const top = panelTops[row];
  const right = col.left + col.w, bottom = top + panelH;
  const slug = col.prefix + '-' + (row + 1);
  const g = mk('g', {}, panelsRoot);
  
  

  const clipId = 'clip-' + slug;
  const cp = mk('clipPath', {id: clipId}, g);
  mk('rect', {x: col.left, y: top, width: col.w, height: panelH}, cp);

  const bg = mk('rect', {x: col.left, y: top, width: col.w, height: panelH, fill: '#f7f7f7'}, g);
  
  

  const body = mk('g', {'clip-path': 'url(#' + clipId + ')'}, g);

  col.fills[row].forEach(item => {
    const path = mk('path', {d: smoothPath(toPoints(col, top, item[1], true), true), fill: shadeColor[item[0]]}, body);
    
    
  });

  countryBorders.forEach(flat => {
    const path = mk('path', {d: straightPath(toPoints(col, top, flat, false)), fill: 'none', stroke: '#555', 'stroke-width': 1.8, 'stroke-linejoin': 'round'}, body);
    
    
  });
  coastlines.forEach(flat => {
    const path = mk('path', {d: straightPath(toPoints(col, top, flat, false)), fill: 'none', stroke: '#555', 'stroke-width': 1.9, 'stroke-linejoin': 'round', 'stroke-linecap': 'round'}, body);
    
    
  });

  equatorOceanSpans.forEach(span => {
    const y = axisY(top, 0);
    const eq = mk('line', {x1: axisX(col, span[0]), y1: y, x2: axisX(col, span[1]), y2: y, stroke: '#444', 'stroke-width': 1.5, 'stroke-dasharray': '5 4'}, body);
    
    
  });
  const mx = axisX(col, 0);
  const mer = mk('line', {x1: mx, y1: axisY(top, meridianSpan[0]), x2: mx, y2: axisY(top, meridianSpan[1]), stroke: '#444', 'stroke-width': 1.5, 'stroke-dasharray': '5 4'}, body);
  
  

  col.lines[row].forEach(item => {
    const kind = item[0];
    const path = mk('path', {d: smoothPath(toPoints(col, top, item[1], false), !!item[2]), fill: 'none', stroke: lineColor[kind], 'stroke-width': 2}, body);
    
    
  });

  const ticks = mk('g', {stroke: '#000'}, g);
  
  
  for (let lon = -90; lon <= 90; lon += 10) {
    const major = lonTickValues.includes(lon);
    const len = major ? 7 : 3, x = axisX(col, lon);
    mk('line', {x1: x, y1: top - len, x2: x, y2: top, 'stroke-width': major ? 2.2 : 1.6}, ticks);
    mk('line', {x1: x, y1: bottom, x2: x, y2: bottom + len, 'stroke-width': major ? 2.2 : 1.6}, ticks);
  }
  for (let lat = -10; lat <= 30; lat += 2) {
    const major = latTickValues.includes(lat);
    const len = major ? 6 : 3, y = axisY(top, lat);
    mk('line', {x1: col.left - len, y1: y, x2: col.left, y2: y, 'stroke-width': major ? 2.4 : 1.6}, ticks);
    mk('line', {x1: right, y1: y, x2: right + len, y2: y, 'stroke-width': major ? 2.4 : 1.6}, ticks);
  }

  const frame = mk('rect', {x: col.left, y: top, width: col.w, height: panelH, fill: 'none', stroke: '#000', 'stroke-width': 2.6}, g);
  
  

  const title = mk('text', {x: col.left - 2, y: top - 7.5, 'font-size': 34.7}, g);
  title.textContent = col.titles[row];
  
  

  if (col.left < 200) {
    latTickValues.forEach((lat, i) => {
      const t = mk('text', {x: 74, y: axisY(top, lat) + 12, 'font-size': 34.6, 'text-anchor': 'end'}, g);
      t.textContent = latTickLabels[i];
      
      
    });
  }
  if (row === 3) {
    lonTickValues.forEach((lon, i) => {
      const t = mk('text', {x: axisX(col, lon) - 1, y: 910, 'font-size': 35, 'text-anchor': 'middle'}, g);
      t.textContent = lonTickLabels[i];
      
      
    });
  }
}
columns.forEach(col => panelTops.forEach((_, row) => drawPanel(col, row)));

/* corner labels */
const obs = mk('text', {x: 737.5, y: 31.5, 'font-size': 34.7, 'text-anchor': 'end'}, panelsRoot);
obs.textContent = 'Observed';


const cfs = mk('text', {x: 1478.5, y: 31.5, 'font-size': 34.7, 'text-anchor': 'end'}, panelsRoot);
cfs.textContent = 'CFS Forecast';



/* colorbar */
const cbRoot = document.getElementById('colorbar');
const cbLeft = 230, cbW = 603, cbTop = 972, cbH = 23;
function cbX(i) { return cbLeft + i * cbW / colorbarBins.length; }
colorbarBins.forEach((bin, i) => {
  const box = mk('rect', {x: cbX(i), y: cbTop, width: cbW / colorbarBins.length, height: cbH, fill: shadeColor[bin], stroke: '#000', 'stroke-width': 1.4}, cbRoot);
  
  
});
colorbarLabels.forEach((label, i) => {
  const t = mk('text', {x: cbX(i + 1), y: 1023, 'font-size': 29.5, 'text-anchor': 'middle'}, cbRoot);
  t.textContent = label;
  
  
});
</script>
</body>
</html>
